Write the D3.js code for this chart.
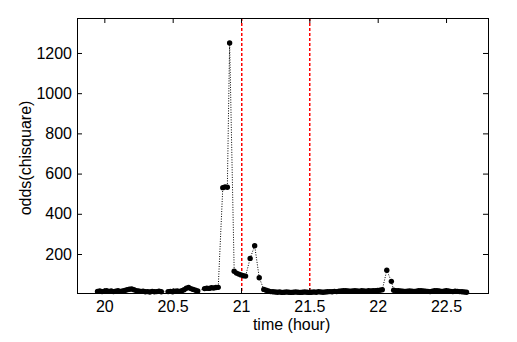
<!DOCTYPE html>
<html>
<head>
<meta charset="utf-8">
<script src="https://cdn.jsdelivr.net/npm/d3@7"></script>
<style>
  body { margin: 0; background: #fff; }
  svg { font-family: "Liberation Sans", Arial, sans-serif; }
  .axis text { font-size: 16px; fill: #000; }
  .axis line { stroke: #000; }
</style>
</head>
<body>
<svg id="chart"></svg>
<script>
// sample times, minutes after 20:00
const minutes = [
  -3, -2, -1, 0, 1, 2, 3, 4, 5, 6, 7, 8, 9, 10, 11, 12, 13, 14, 15, 16, 17, 18, 19, 20, 21, 22, 23, 24, 25,
  28, 29, 30, 31, 32, 33, 34, 35, 36, 37, 38, 39, 40, 41,
  44, 45, 46, 47, 48, 49, 50,
  52, 53, 54, 55, 57, 58, 59, 60, 61, 62, 64, 66, 68,
  70, 71, 72, 73, 74, 75, 76, 77, 78, 79, 80, 81, 82, 83, 84, 85, 86, 87, 88, 89, 90,
  91, 92, 93, 94, 95, 96, 97, 98, 99, 100, 101, 102, 103, 104, 105, 106, 107, 108, 109, 110,
  111, 112, 113, 114, 115, 116, 117, 118, 119, 120, 121, 122, 124, 126,
  127, 128, 129, 130, 131, 132, 133, 134, 135, 136, 137, 138, 139, 140, 141, 142, 143, 144, 145,
  146, 147, 148, 149, 150, 151, 152, 153, 154, 155, 156, 157, 158, 159
];
// odds (chisquare) at each sample
const odds = [
  14, 16, 13, 15, 17, 14, 16, 13, 15, 18, 14, 16, 19, 22, 25, 26, 22, 18, 16, 14, 15, 12, 13, 11, 14, 12, 13, 15, 12,
  13, 14, 12, 15, 16, 14, 17, 22, 30, 33, 28, 24, 20, 16,
  28, 30, 29, 32, 31, 33, 34,
  530, 534, 532, 1250, 114, 105, 100, 96, 92, 90, 178, 241, 82,
  24, 20, 16, 13, 12, 11, 10, 11, 9, 10, 11, 10, 9, 10, 11, 10, 9, 10, 11, 10, 9,
  10, 11, 10, 12, 11, 10, 11, 12, 13, 12, 14, 13, 15, 16, 18, 17, 16, 15, 16, 17,
  16, 15, 17, 16, 15, 17, 16, 18, 17, 19, 20, 22, 119, 64,
  20, 18, 17, 16, 15, 14, 15, 16, 15, 14, 15, 17, 18, 16, 15, 14, 13, 15, 17,
  18, 16, 14, 15, 17, 16, 14, 13, 15, 14, 13, 12, 11, 10
];
const xTicks = [20, 20.5, 21, 21.5, 22, 22.5];
const yTicks = [200, 400, 600, 800, 1000, 1200];
const markerHours = [21, 21.5];

const W = 517, H = 342;
const margin = { top: 18, right: 29, bottom: 49, left: 77 };
const width = W - margin.left - margin.right;
const height = H - margin.top - margin.bottom;

const data = minutes.map((m, i) => ({ t: 20 + m / 60, v: odds[i] }));

const svg = d3.select('#chart')
  .attr('width', W)
  .attr('height', H);

// dash pattern for the red marker lines (3px on, 2px off)
const pat = svg.append('defs').append('pattern')
  .attr('id', 'reddash')
  .attr('patternUnits', 'userSpaceOnUse')
  .attr('width', 4)
  .attr('height', 5);
pat.append('rect')
  .attr('width', 4)
  .attr('height', 3)
  .attr('fill', '#ff0000');

const graph = svg.append('g')
  .attr('transform', `translate(${margin.left}, ${margin.top})`);

const x = d3.scaleLinear()
  .domain([19.8, 22.807])
  .range([0, width]);

const y = d3.scaleLinear()
  .domain([6, 1374])
  .range([height, 0]);

graph.append('g')
  .attr('fill', 'url(#reddash)')
  .selectAll('rect')
  .data(markerHours)
  .enter().append('rect')
  .attr('x', d => Math.round(x(d)))
  .attr('y', 0)
  .attr('width', 1.5)
  .attr('height', height);

// dotted series line
graph.append('path')
  .datum(data)
  .attr('fill', 'none')
  .attr('stroke', '#000')
  .attr('stroke-width', 1)
  .attr('stroke-dasharray', '1,1.5')
  .attr('d', d3.line().x(d => x(d.t)).y(d => y(d.v)));

graph.append('g')
  .attr('fill', '#000')
  .selectAll('circle')
  .data(data)
  .enter().append('circle')
  .attr('cx', d => x(d.t))
  .attr('cy', d => y(d.v))
  .attr('r', 2.7);

// axes with inward ticks on all four sides
graph.append('g')
  .attr('class', 'axis')
  .attr('transform', `translate(0, ${height})`)
  .call(d3.axisBottom(x).tickValues(xTicks).tickFormat(d3.format('')).tickSize(-5).tickPadding(8));

graph.append('g')
  .attr('class', 'axis')
  .call(d3.axisTop(x).tickValues(xTicks).tickFormat('').tickSize(-5));

graph.append('g')
  .attr('class', 'axis')
  .call(d3.axisLeft(y).tickValues(yTicks).tickFormat(d3.format('d')).tickSize(-5).tickPadding(5));

graph.append('g')
  .attr('class', 'axis')
  .attr('transform', `translate(${width}, 0)`)
  .call(d3.axisRight(y).tickValues(yTicks).tickFormat('').tickSize(-5));

graph.selectAll('.axis .domain').remove();

graph.append('rect')
  .attr('x', 0.5)
  .attr('y', 0.5)
  .attr('width', width)
  .attr('height', height)
  .attr('fill', 'none')
  .attr('stroke', '#000')
  .attr('stroke-width', 1);

svg.append('text')
  .attr('x', margin.left + x(21.37))
  .attr('y', 330)
  .attr('text-anchor', 'middle')
  .attr('font-size', 16)
  .text('time (hour)');

svg.append('text')
  .attr('transform', `translate(31, 158) rotate(-90)`)
  .attr('text-anchor', 'middle')
  .attr('font-size', 16)
  .text('odds(chisquare)');
</script>
</body>
</html>
